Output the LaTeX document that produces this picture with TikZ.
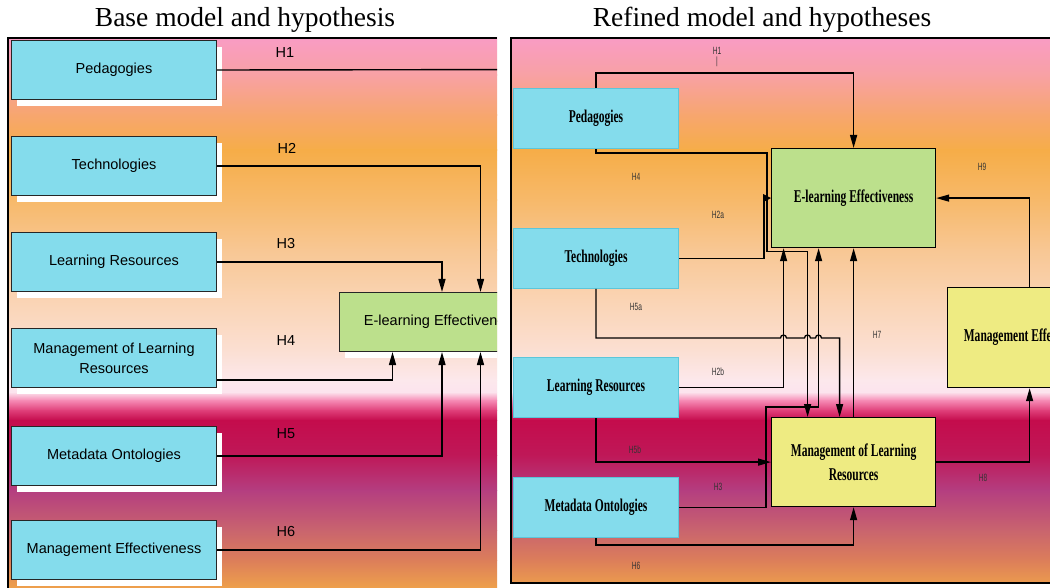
\documentclass[tikz,border=0pt]{standalone}
\usepackage{fontspec}
\setmainfont{Liberation Serif}
\newfontfamily\labelsans{Liberation Sans}
\newfontfamily\condbold[FakeStretch=0.64]{Liberation Serif Bold}
\newfontfamily\narrowsans[FakeStretch=0.63]{Liberation Sans}
\usetikzlibrary{arrows.meta,shadows}

% box fills
\definecolor{boxcyan}{HTML}{84DCEC}
\definecolor{cyanedge}{HTML}{5CC6DA}
\definecolor{boxgreen}{HTML}{BCE08C}
\definecolor{boxyellow}{HTML}{EEEB82}
% background gradient stops, top to bottom
\definecolor{bgA}{HTML}{F99CC4}
\definecolor{bgB}{HTML}{F8A1A4}
\definecolor{bgC}{HTML}{F7A66E}
\definecolor{bgD}{HTML}{F6AD48}
\definecolor{bgE}{HTML}{F7B96A}
\definecolor{bgF}{HTML}{F8C794}
\definecolor{bgG}{HTML}{FAD4B4}
\definecolor{bgH}{HTML}{FBDFD2}
\definecolor{bgI}{HTML}{FCE8EC}
\definecolor{bgJ}{HTML}{FCE4EE}
\definecolor{bgK}{HTML}{F68CB6}
\definecolor{bgL}{HTML}{E0407A}
\definecolor{bgM}{HTML}{C40C4C}
\definecolor{bgN}{HTML}{BF1858}
\definecolor{bgO}{HTML}{B43E80}
\definecolor{bgP}{HTML}{C9646E}
\definecolor{bgQ}{HTML}{DC7E5A}
\definecolor{bgR}{HTML}{F0A34A}

% vertical colour bands between x=#1 and x=#2
\newcommand{\bandfill}[2]{%
  \foreach \ya/\ca/\yb/\cb in {38/bgA/75/bgB, 75/bgB/115/bgC, 115/bgC/150/bgD,
      150/bgD/200/bgE, 200/bgE/250/bgF, 250/bgF/300/bgG, 300/bgG/350/bgH,
      350/bgH/380/bgI, 380/bgI/392/bgJ, 392/bgJ/400/bgK, 400/bgK/410/bgL,
      410/bgL/420/bgM, 420/bgM/455/bgN, 455/bgN/490/bgO, 490/bgO/530/bgP,
      530/bgP/560/bgQ, 560/bgQ/590/bgR}
    {\shade[top color=\ca, bottom color=\cb] (#1,-\ya) rectangle (#2,{-\yb-0.5});}%
}

\tikzset{
  leftbox/.style={draw=black!85, line width=1pt, fill=boxcyan,
    minimum width=205pt, minimum height=59pt, inner sep=0pt, align=center,
    font=\labelsans\fontsize{14.5}{20}\selectfont,
    general shadow={fill=white, shadow xshift=5.5pt, shadow yshift=-6.5pt}},
  leftgoal/.style={leftbox, fill=boxgreen},
  lconn/.style={line width=1.4pt, -{Triangle[length=13pt,width=7pt]}},
  lline/.style={line width=1.4pt},
  hlabel/.style={font=\labelsans\fontsize{14.5}{16}\selectfont, inner sep=0pt},
  rightbox/.style={draw=cyanedge, line width=1pt, fill=boxcyan,
    minimum width=165pt, minimum height=60pt, inner sep=0pt, align=center,
    font=\condbold\fontsize{18}{24}\selectfont},
  rightgoal/.style={draw=black, line width=1.2pt, fill=boxgreen, inner sep=0pt,
    minimum width=164pt, align=center, font=\condbold\fontsize{18}{24}\selectfont},
  rightmid/.style={rightgoal, fill=boxyellow},
  rconn/.style={line width=1.3pt, -{Triangle[length=13pt,width=7pt]}},
  rshort/.style={line width=1.3pt, -{Triangle[length=8pt,width=8pt]}},
  smalllabel/.style={font=\narrowsans\fontsize{10.5}{11}\selectfont, text=black!80,
    inner sep=0pt, align=center},
  paneltitle/.style={font=\fontsize{27.5}{30}\selectfont, inner sep=0pt}
}

\begin{document}
\begin{tikzpicture}[x=1pt,y=1pt]
\useasboundingbox[fill=white] (0,0) rectangle (1050,-588);

% titles
\node[paneltitle] (title1) at (245,-20) {Base model and hypothesis};
\node[paneltitle] (title2) at (762,-20) {Refined model and hypotheses};

% ---------------- base model ----------------
\begin{scope}
  \clip (8,-38) rectangle (497,-588);
  \bandfill{8}{497}

  \node[leftbox, anchor=north west] (lped)  at (11,-40)  {Pedagogies};
  \node[leftbox, anchor=north west] (ltech) at (11,-136) {Technologies};
  \node[leftbox, anchor=north west] (llr)   at (11,-232) {Learning Resources};
  \node[leftbox, anchor=north west] (lmlr)  at (11,-328) {Management of Learning\\Resources};
  \node[leftbox, anchor=north west] (lmo)   at (11,-426) {Metadata Ontologies};
  \node[leftbox, anchor=north west] (lme)   at (11,-520) {Management Effectiveness};
  \node[leftgoal, anchor=north west] (lel)  at (339,-292) {E-learning Effectiveness};

  \coordinate (h1free) at (560,-69.5);
  \draw[lline] (lped.east) -- (h1free);
  \draw[lconn] (ltech.east) -| ([xshift=38.5pt]lel.north);
  \draw[lconn] (llr.east) -| (lel.north);
  \draw[lconn] ([yshift=8pt]lmlr.south east) -| ([xshift=-49.5pt]lel.south);
  \draw[lconn] (lmo.east) -| (lel.south);
  \draw[lconn] (lme.east) -| ([xshift=38.5pt]lel.south);

  \node[hlabel] (lh1) at (285,-53)  {H1};
  \node[hlabel] (lh2) at (287,-148) {H2};
  \node[hlabel] (lh3) at (286,-244) {H3};
  \node[hlabel] (lh4) at (286,-341) {H4};
  \node[hlabel] (lh5) at (286,-434) {H5};
  \node[hlabel] (lh6) at (286,-532) {H6};
\end{scope}
\draw[line width=1.7pt] (8,-589) -- (8,-38) -- (497,-38);

% ---------------- refined model ----------------
\begin{scope}
  \clip (511,-38) rectangle (1050,-583);
  \bandfill{511}{1050}

  \node[rightbox, anchor=north west] (ped2)  at (513,-88)  {Pedagogies};
  \node[rightbox, anchor=north west] (tech2) at (513,-228) {Technologies};
  \node[rightbox, anchor=north west] (lr2)   at (513,-357) {Learning Resources};
  \node[rightbox, anchor=north west] (mo2)   at (513,-477) {Metadata Ontologies};
  \node[rightgoal, minimum height=99pt, anchor=north west] (el2) at (771,-148) {E-learning Effectiveness};
  \node[rightmid, minimum height=89pt, anchor=north west] (mlr2) at (771,-417) {Management of Learning\\Resources};
  \node[rightmid, minimum height=100pt, anchor=north west] (me2) at (947,-287) {Management Effectiveness};

  % H1
  \draw[rconn] (ped2.north) -- ++(0,15) -| (el2.north);
  % H4
  \draw[rconn] (ped2.south) -- ++(0,-4) -| ([xshift=-4pt,yshift=-3pt]el2.south west)
               -| ([xshift=-46pt]mlr2.north);
  % H2a
  \draw[rshort] (tech2.east) -| ([xshift=-7pt]el2.west) -- (el2.west);
  % H5a, hopping over three vertical connectors
  \draw[rconn] (tech2.south) -- ++(0,-49) -- ++(184.5,0)
               arc[start angle=180,end angle=0,radius=3] -- ++(18,0)
               arc[start angle=180,end angle=0,radius=3] -- ++(5,0)
               arc[start angle=180,end angle=0,radius=3]
               -| ([xshift=-14pt]mlr2.north);
  % H2b
  \draw[rconn] (lr2.east) -| ([xshift=-70pt]el2.south);
  % H5b
  \draw[rconn] (lr2.south) |- (mlr2.west);
  % H3
  \draw[rconn] (mo2.east) -| ([xshift=-5pt,yshift=10pt]mlr2.north west)
               -| ([xshift=-35pt]el2.south);
  % H6
  \draw[rconn] (mo2.south) -- ++(0,-7) -| (mlr2.south);
  % H7
  \draw[rconn] (mlr2.north) -- (el2.south);
  % H8
  \draw[rconn] (mlr2.east) -| (me2.south);
  % H9
  \draw[rconn] (me2.north) |- (el2.east);

  \node[smalllabel] (rh1)  at (717,-57)  {H1\\[-1pt]|};
  \node[smalllabel] (rh4)  at (636,-177) {H4};
  \node[smalllabel] (rh2a) at (718,-215) {H2a};
  \node[smalllabel] (rh5a) at (636,-307) {H5a};
  \node[smalllabel] (rh2b) at (718,-372) {H2b};
  \node[smalllabel] (rh5b) at (635,-450) {H5b};
  \node[smalllabel] (rh3)  at (718,-487) {H3};
  \node[smalllabel] (rh6)  at (636,-566) {H6};
  \node[smalllabel] (rh7)  at (877,-335) {H7};
  \node[smalllabel] (rh8)  at (983,-478) {H8};
  \node[smalllabel] (rh9)  at (982,-167) {H9};
\end{scope}
\draw[line width=1.8pt] (1052,-38) -- (511,-38) -- (511,-583) -- (1052,-583);
\end{tikzpicture}
\end{document}
